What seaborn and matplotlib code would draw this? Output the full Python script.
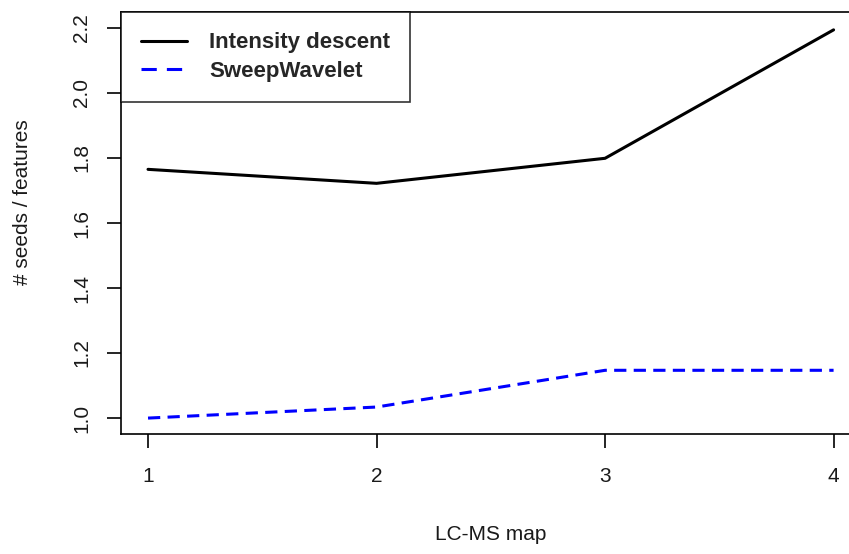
import matplotlib
matplotlib.use("Agg")
import matplotlib.pyplot as plt
import seaborn as sns
import pandas as pd
from matplotlib.lines import Line2D

lcms_map = [1, 2, 3, 4]
intensity_descent = [1.765, 1.722, 1.799, 2.194]
sweep_wavelet = [1.0, 1.034, 1.147, 1.147]
x_ticks = [1, 2, 3, 4]
y_ticks = [1.0, 1.2, 1.4, 1.6, 1.8, 2.0, 2.2]

sns.set_style("white")
plt.rcParams['font.family'] = ['Liberation Sans', 'DejaVu Sans']

df = pd.DataFrame({
    "map": lcms_map * 2,
    "value": intensity_descent + sweep_wavelet,
    "method": ["Intensity descent"] * 4 + ["SweepWavelet"] * 4,
})

fig = plt.figure(figsize=(8.49, 5.54), dpi=100)
ax = fig.add_axes([120.6 / 849, (554 - 433.7) / 554, (861 - 120.6) / 849, (433.7 - 12.3) / 554])

sns.lineplot(data=df, x="map", y="value", hue="method", style="method",
             palette={"Intensity descent": "black", "SweepWavelet": "#0000ff"},
             dashes={"Intensity descent": "", "SweepWavelet": (4, 2.4)},
             linewidth=2.2, ax=ax, legend=False)

ax.set_xlim(1 - 0.12, 4 + 0.12)
ax.set_ylim(1.0 - 0.048, 2.2 + 0.048)
ax.set_xticks(x_ticks)
ax.set_xticklabels([str(v) for v in x_ticks])
ax.set_yticks(y_ticks)
ax.set_yticklabels([f"{v:.1f}" for v in y_ticks], rotation=90, va="center")
ax.tick_params(axis="both", direction="out", length=10, width=1.2, labelsize=15,
               color="black", labelcolor="#1a1a1a", left=True, bottom=True)
ax.tick_params(axis="x", pad=14)
ax.tick_params(axis="y", pad=11)
for s in ax.spines.values():
    s.set_color("black")
    s.set_linewidth(1.2)
ax.set_xlabel("LC-MS map", fontsize=15, color="#1a1a1a", va="top")
ax.xaxis.set_label_coords(0.5, -0.217)
ax.set_ylabel("# seeds / features", fontsize=15, color="#1a1a1a")
ax.yaxis.set_label_coords(-0.12, 0.55)

handles = [Line2D([], [], color="black", lw=2.2),
           Line2D([], [], color="#0000ff", lw=2.2, dashes=(5, 3.3))]
leg = ax.legend(handles, ["Intensity descent", "SweepWavelet"], loc="upper left",
                bbox_to_anchor=(0, 1), borderaxespad=0, frameon=True, fancybox=False,
                prop={"weight": "bold", "size": 16}, handlelength=2.1,
                borderpad=0.9, labelspacing=0.35, handletextpad=1.0)
leg.get_frame().set_edgecolor("black")
leg.get_frame().set_linewidth(1.2)

fig.savefig("out.png", dpi=100)
